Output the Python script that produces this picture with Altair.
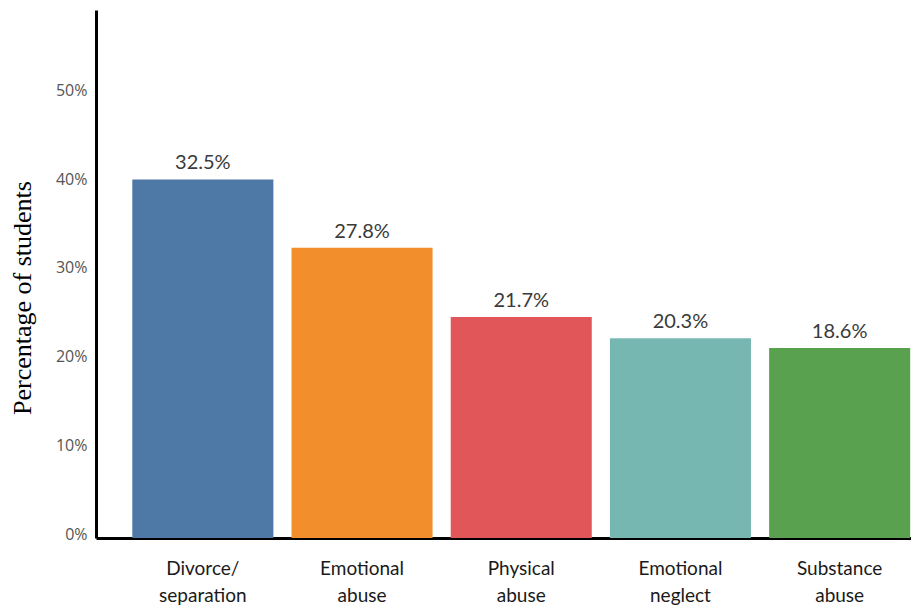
import altair as alt
import pandas as pd

# Data
categories = ["Divorce/|separation", "Emotional|abuse", "Physical|abuse",
              "Emotional|neglect", "Substance|abuse"]
bar_heights = [0.404, 0.327, 0.249, 0.225, 0.214]   # drawn bar heights (fraction)
value_labels = ["32.5%", "27.8%", "21.7%", "20.3%", "18.6%"]  # printed labels
bar_colors = ["#4E79A7", "#F28E2B", "#E15759", "#76B7B2", "#59A14F"]
y_ticks = [0, 0.1, 0.2, 0.3, 0.4, 0.5]

df = pd.DataFrame({"category": categories, "share": bar_heights, "label": value_labels})

x_enc = alt.X(
    "category:N",
    sort=categories,
    scale=alt.Scale(paddingInner=0.114, paddingOuter=0.1166, align=0.978),
    axis=alt.Axis(
        title=None,
        labelExpr="split(datum.value, '|')",
        labelAngle=0,
        ticks=False,
        domainColor="black",
        domainWidth=3,
        labelFont="Lato",
        labelFontSize=19,
        labelColor="#1a1a1a",
        labelPadding=21,
        labelLineHeight=27,
        labelBaseline="top",
    ),
)

y_enc = alt.Y(
    "share:Q",
    scale=alt.Scale(domain=[0, 0.595], nice=False, zero=True),
    axis=alt.Axis(
        values=y_ticks,
        format=".0%",
        grid=False,
        ticks=False,
        domainColor="black",
        domainWidth=3,
        labelFont="Open Sans",
        labelFontSize=16,
        labelColor="#555555",
        labelPadding=9,
        labelOffset=-4,
        title="Percentage of students",
        titleFont="Liberation Serif",
        titleFontSize=26,
        titleFontWeight="normal",
        titleColor="black",
        titleAngle=270,
        titleX=-74,
        titleY=287.5,
        titleAlign="center",
        titleBaseline="middle",
    ),
)

bars = alt.Chart(df).mark_bar().encode(
    x=x_enc,
    y=y_enc,
    color=alt.Color("category:N", sort=categories,
                    scale=alt.Scale(domain=categories, range=bar_colors), legend=None),
)

texts = alt.Chart(df).mark_text(
    baseline="bottom", dy=-6, font="Lato", fontSize=20, color="#3a3a3a"
).encode(
    x=alt.X("category:N", sort=categories),
    y=alt.Y("share:Q"),
    text="label:N",
)

chart = alt.layer(bars, texts).properties(
    width=815,
    height=528,
    autosize=alt.AutoSizeParams(type="none"),
    padding={"left": 88, "top": 2, "right": 0, "bottom": 70},
).configure_view(stroke=None)

chart.save("out.html", embed_options={"renderer": "svg", "actions": False})
